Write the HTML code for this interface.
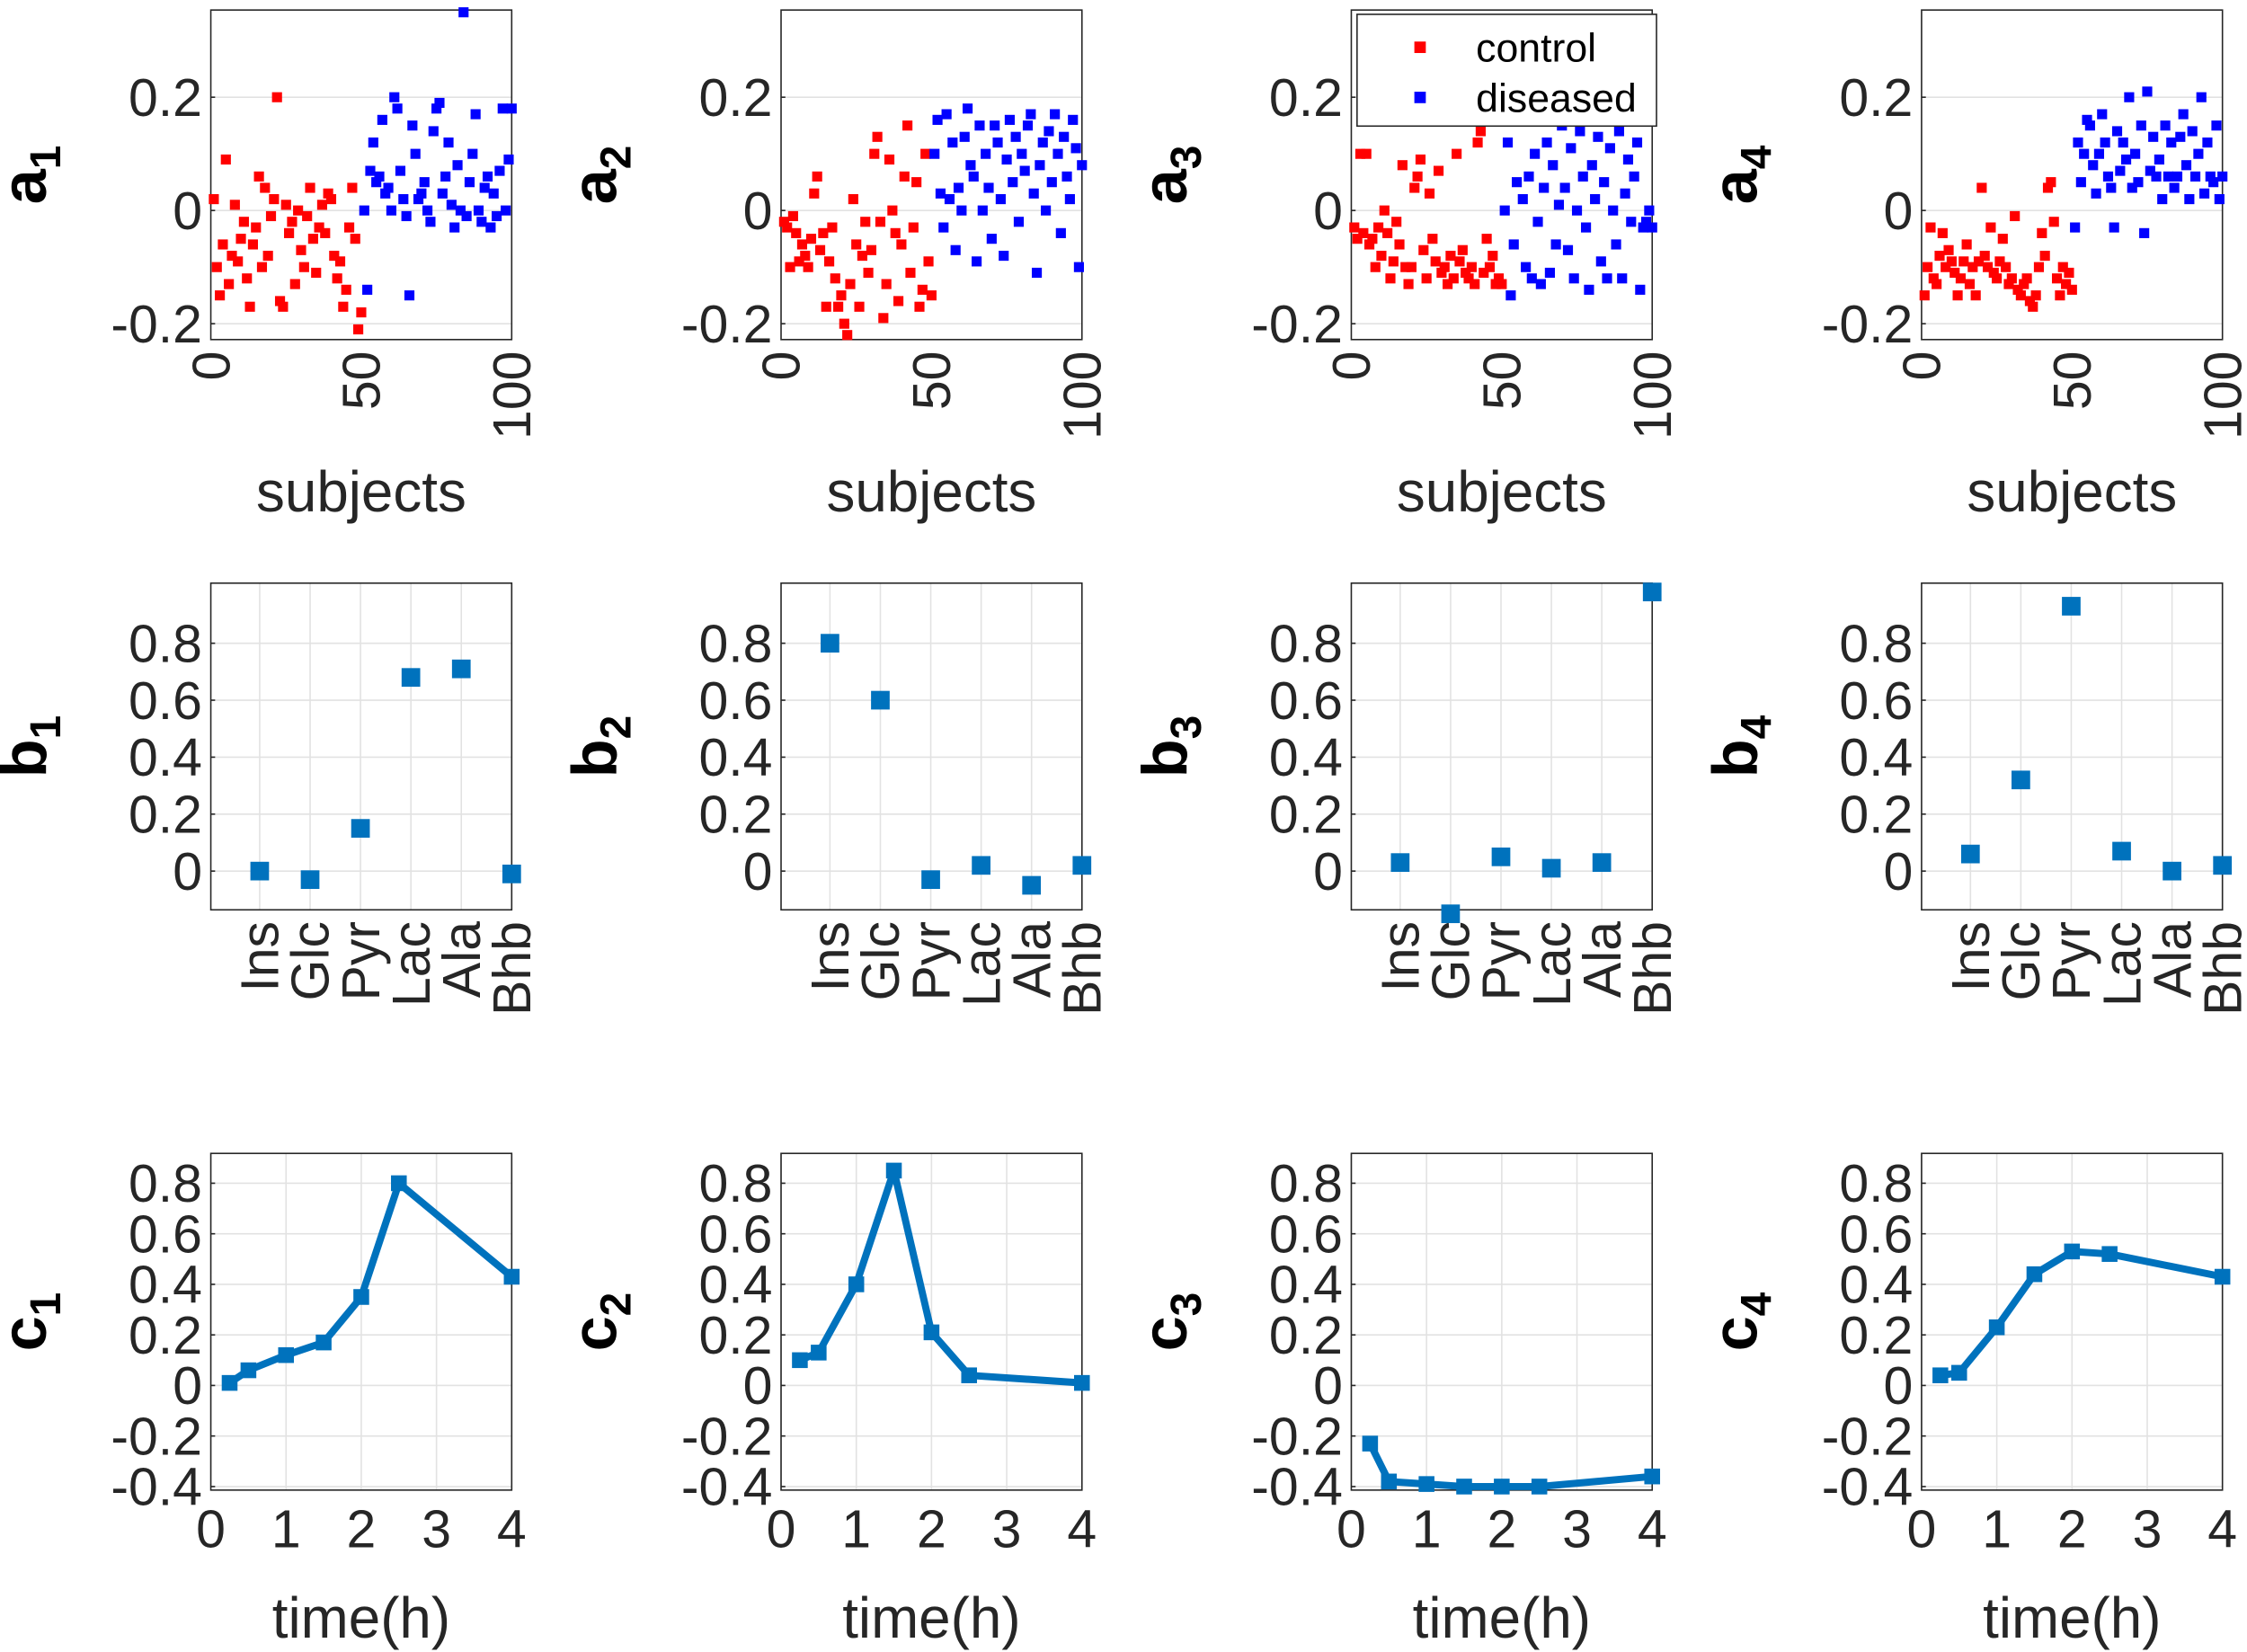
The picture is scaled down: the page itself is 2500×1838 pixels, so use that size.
<!DOCTYPE html>
<html><head><meta charset="utf-8">
<style>
html,body{margin:0;padding:0;background:#fff;}
svg{display:block;font-family:"Liberation Sans",Arial,sans-serif;}
</style></head>
<body>
<svg id="fig" width="2500" height="1838" viewBox="0 0 1568 1153" xmlns="http://www.w3.org/2000/svg"></svg>
<script>
// ---- data ----
const subjCtrl = [1,2,3,4,5,6,7,8,9,10,11,12,13,14,15,16,17,18,19,20,21,22,23,24,25,26,27,28,29,30,31,32,33,34,35,36,37,38,39,40,41,42,43,44,45,46,47,48,49,50];
const subjDis = [51,52,53,54,55,56,57,58,59,60,61,62,63,64,65,66,67,68,69,70,71,72,73,74,75,76,77,78,79,80,81,82,83,84,85,86,87,88,89,90,91,92,93,94,95,96,97,98,99,100];
const a1Ctrl = [0.02,-0.1,-0.15,-0.06,0.09,-0.13,-0.08,0.01,-0.09,-0.05,-0.02,-0.12,-0.17,-0.06,-0.03,0.06,-0.1,0.04,-0.08,-0.01,0.02,0.2,-0.16,-0.17,0.01,-0.04,-0.02,-0.13,0.0,-0.07,-0.1,-0.01,0.04,-0.05,-0.11,-0.03,0.01,-0.04,0.03,0.02,-0.08,-0.12,-0.09,-0.17,-0.14,-0.03,0.04,-0.05,-0.21,-0.18];
const a1Dis = [0.0,-0.14,0.07,0.12,0.05,0.06,0.16,0.03,0.04,0.0,0.2,0.18,0.07,0.02,-0.01,-0.15,0.15,0.1,0.02,0.03,0.05,0.0,-0.02,0.14,0.18,0.19,0.03,0.06,0.12,0.01,-0.03,0.08,0.0,0.35,-0.01,0.05,0.1,0.17,0.0,-0.02,0.04,0.06,-0.03,0.03,-0.01,0.07,0.18,0.0,0.09,0.18];
const a2Ctrl = [-0.02,-0.03,-0.1,-0.01,-0.04,-0.09,-0.06,-0.08,-0.1,-0.05,0.03,0.06,-0.07,-0.04,-0.17,-0.09,-0.03,-0.12,-0.17,-0.15,-0.2,-0.22,-0.13,0.02,-0.06,-0.17,-0.08,-0.02,-0.11,-0.07,0.1,0.13,-0.02,-0.19,-0.13,0.09,0.0,-0.04,-0.16,-0.06,0.06,0.15,-0.11,-0.03,0.05,-0.17,-0.14,0.1,-0.09,-0.15];
const a2Dis = [0.1,0.16,0.03,-0.03,0.17,0.02,0.12,-0.07,0.04,0.0,0.13,0.18,0.08,0.06,-0.09,0.15,0.0,0.1,0.04,-0.05,0.15,0.12,0.02,-0.08,0.09,0.16,0.05,0.13,-0.02,0.1,0.07,0.15,0.17,0.03,-0.11,0.08,0.12,0.0,0.14,0.05,0.17,0.1,-0.04,0.13,0.06,0.02,0.16,0.11,-0.1,0.08];
const a3Ctrl = [-0.03,-0.05,0.1,-0.04,0.1,-0.06,-0.05,-0.1,-0.03,-0.08,0.0,-0.04,-0.12,-0.09,-0.02,-0.06,0.08,-0.1,-0.13,-0.1,0.04,0.06,0.09,-0.07,-0.12,0.03,-0.05,-0.09,0.07,-0.11,-0.1,-0.13,-0.08,-0.12,0.1,-0.09,-0.07,-0.11,-0.12,-0.1,-0.13,0.12,0.14,-0.11,-0.05,-0.1,-0.08,-0.13,-0.12,-0.13];
const a3Dis = [0.0,0.12,-0.15,-0.06,0.05,0.16,0.02,-0.1,0.06,-0.12,0.1,-0.02,-0.13,0.04,0.12,-0.11,0.08,-0.06,0.01,0.15,0.04,-0.07,0.11,-0.12,0.0,0.14,0.06,-0.03,-0.14,0.08,0.02,0.13,-0.09,0.05,-0.12,0.11,0.0,-0.06,0.14,-0.12,0.03,0.09,-0.02,0.06,0.12,-0.14,-0.03,-0.02,0.0,-0.03];
const a4Ctrl = [-0.15,-0.1,-0.03,-0.12,-0.13,-0.08,-0.04,-0.1,-0.07,-0.09,-0.11,-0.15,-0.12,-0.09,-0.06,-0.13,-0.1,-0.15,-0.09,0.04,-0.08,-0.1,-0.03,-0.11,-0.12,-0.09,-0.05,-0.1,-0.13,-0.12,-0.01,-0.14,-0.15,-0.13,-0.12,-0.16,-0.17,-0.15,-0.1,-0.04,-0.08,0.04,0.05,-0.02,-0.12,-0.15,-0.1,-0.13,-0.11,-0.14];
const a4Dis = [-0.03,0.12,0.05,0.1,0.16,0.15,0.08,0.03,0.1,0.17,0.12,0.06,0.04,-0.03,0.14,0.07,0.12,0.09,0.2,0.04,0.1,0.05,0.15,-0.04,0.21,0.07,0.13,0.06,0.09,0.02,0.15,0.06,0.12,0.04,0.06,0.13,0.17,0.08,0.02,0.14,0.06,0.1,0.2,0.03,0.12,0.06,0.05,0.15,0.02,0.06];
const metabolites = ["Ins","Glc","Pyr","Lac","Ala","Bhb"];
const b1 = [0.0,-0.03,0.15,0.68,0.71,-0.01];
const b2 = [0.8,0.6,-0.03,0.02,-0.05,0.02];
const b3 = [0.03,-0.15,0.05,0.01,0.03,0.98];
const b4 = [0.06,0.32,0.93,0.07,0.0,0.02];
const times = [0.25,0.5,1,1.5,2,2.5,4];
const c1 = [0.01,0.06,0.12,0.17,0.35,0.8,0.43];
const c2 = [0.1,0.13,0.4,0.85,0.21,0.04,0.01];
const c3 = [-0.23,-0.38,-0.39,-0.4,-0.4,-0.4,-0.36];
const c4 = [0.04,0.05,0.23,0.44,0.53,0.52,0.43];
const aTicks = [-0.2,0,0.2];
const aTickLabels = ["-0.2","0","0.2"];
const sTicks = [0,50,100];
const bTicks = [0,0.2,0.4,0.6,0.8];
const bTickLabels = ["0","0.2","0.4","0.6","0.8"];
const cTicks = [-0.4,-0.2,0,0.2,0.4,0.6,0.8];
const cTickLabels = ["-0.4","-0.2","0","0.2","0.4","0.6","0.8"];
const tTicks = [0,1,2,3,4];

const NS="http://www.w3.org/2000/svg";
const svg=document.getElementById('fig');
function mk(tag,attrs,parent,text){const e=document.createElementNS(NS,tag);for(const k in attrs)e.setAttribute(k,attrs[k]);if(text!==undefined)e.textContent=text;(parent||svg).appendChild(e);return e;}
const X0=[147,545,943,1341], W=210;
const BLUE="#0072BD";
const FS=37;

function panel(i,row,cfg){
  const g=mk('g',{});
  
  
  const x0=X0[i], y0=cfg.top, H=cfg.bottom-cfg.top;
  const sx=v=>x0+(v-cfg.xmin)/(cfg.xmax-cfg.xmin)*W;
  const sy=v=>cfg.bottom-(v-cfg.ymin)/(cfg.ymax-cfg.ymin)*H;
  cfg.xgrid.forEach(v=>{const l=mk('line',{x1:sx(v),x2:sx(v),y1:y0,y2:cfg.bottom,stroke:'#e2e2e2','stroke-width':1},g);});
  cfg.yticks.forEach(v=>{const l=mk('line',{x1:x0,x2:x0+W,y1:sy(v),y2:sy(v),stroke:'#e2e2e2','stroke-width':1},g);});
  const box=mk('rect',{x:x0,y:y0,width:W,height:H,fill:'none',stroke:'#262626','stroke-width':1},g);
  
  cfg.yticks.forEach((v,k)=>{
    const t=mk('text',{x:x0-6,y:sy(v)+13,'text-anchor':'end','font-size':FS,fill:'#262626'},g,cfg.ylabels[k]);
    
    mk('line',{x1:x0,x2:x0+3,y1:sy(v),y2:sy(v),stroke:'#262626'},g);
  });
  cfg.draw(g,sx,sy);
  cfg.xticks.forEach((v,k)=>{
    let t;
    if(cfg.rotate){t=mk('text',{x:0,y:0,'text-anchor':'end','font-size':FS,fill:'#262626',transform:`translate(${sx(v)+13},${cfg.bottom+8}) rotate(-90)`},g,cfg.xlabels[k]);}
    else{t=mk('text',{x:sx(v),y:cfg.bottom+40,'text-anchor':'middle','font-size':FS,fill:'#262626'},g,cfg.xlabels[k]);}
    
  });
  if(cfg.xtitle){const t=mk('text',{x:x0+W/2,y:cfg.xtitleY,'text-anchor':'middle','font-size':40,fill:'#262626'},g,cfg.xtitle);}
  const yl=mk('text',{x:0,y:0,'text-anchor':'middle','font-size':44,'font-weight':'bold',fill:'#000',transform:`translate(${x0-115},${y0+H/2}) rotate(-90)`},g);
  
  mk('tspan',{},yl,row);
  mk('tspan',{dy:10,'font-size':30},yl,String(i+1));
  return g;
}
function sq(g,x,y,s,c,name){const r=mk('rect',{x:x-s/2,y:y-s/2,width:s,height:s,fill:c},g);}

const aC=[a1Ctrl,a2Ctrl,a3Ctrl,a4Ctrl], aD=[a1Dis,a2Dis,a3Dis,a4Dis];
const bs=[b1,b2,b3,b4], cs=[c1,c2,c3,c4];
for(let i=0;i<4;i++){
  panel(i,'a',{top:7,bottom:237,xmin:0,xmax:100,ymin:-0.228,ymax:0.354,xgrid:[],xticks:sTicks,xlabels:sTicks.map(String),rotate:true,
    yticks:aTicks,ylabels:aTickLabels,xtitle:'subjects',xtitleY:357,
    draw:(g,sx,sy)=>{
      subjCtrl.forEach((s,k)=>sq(g,sx(s),sy(aC[i][k]),7,'#ff0000','control-point'));
      subjDis.forEach((s,k)=>sq(g,sx(s),sy(aD[i][k]),7,'#0000ff','diseased-point'));
    }});
  panel(i,'b',{top:407,bottom:635,xmin:0.03,xmax:6,ymin:-0.136,ymax:1.011,xgrid:[1,2,3,4,5,6],xticks:[1,2,3,4,5,6],xlabels:metabolites,rotate:true,
    yticks:bTicks,ylabels:bTickLabels,
    draw:(g,sx,sy)=>{bs[i].forEach((v,k)=>sq(g,sx(k+1),sy(v),13,BLUE,'loading-point-'+metabolites[k].toLowerCase()));}});
  panel(i,'c',{top:805,bottom:1040,xmin:0,xmax:4,ymin:-0.414,ymax:0.918,xgrid:tTicks,xticks:tTicks,xlabels:tTicks.map(String),rotate:false,
    yticks:cTicks,ylabels:cTickLabels,xtitle:'time(h)',xtitleY:1143,
    draw:(g,sx,sy)=>{
      const p=mk('polyline',{points:times.map((t,k)=>sx(t)+','+sy(cs[i][k])).join(' '),fill:'none',stroke:BLUE,'stroke-width':5,'stroke-linejoin':'round'},g);
      
      times.forEach((t,k)=>sq(g,sx(t),sy(cs[i][k]),11,BLUE,'time-point'));
    }});
}
const lg=mk('g',{});


mk('rect',{x:947,y:10,width:209,height:78,fill:'#fff',stroke:'#262626','stroke-width':1},lg);
sq(lg,991,33,8,'#ff0000','legend-control-marker');
sq(lg,991,68,8,'#0000ff','legend-diseased-marker');
const l1=mk('text',{x:1030,y:43,'font-size':28,fill:'#000'},lg,'control');


const l2=mk('text',{x:1030,y:78,'font-size':28,fill:'#000'},lg,'diseased');


</script>
</body></html>
